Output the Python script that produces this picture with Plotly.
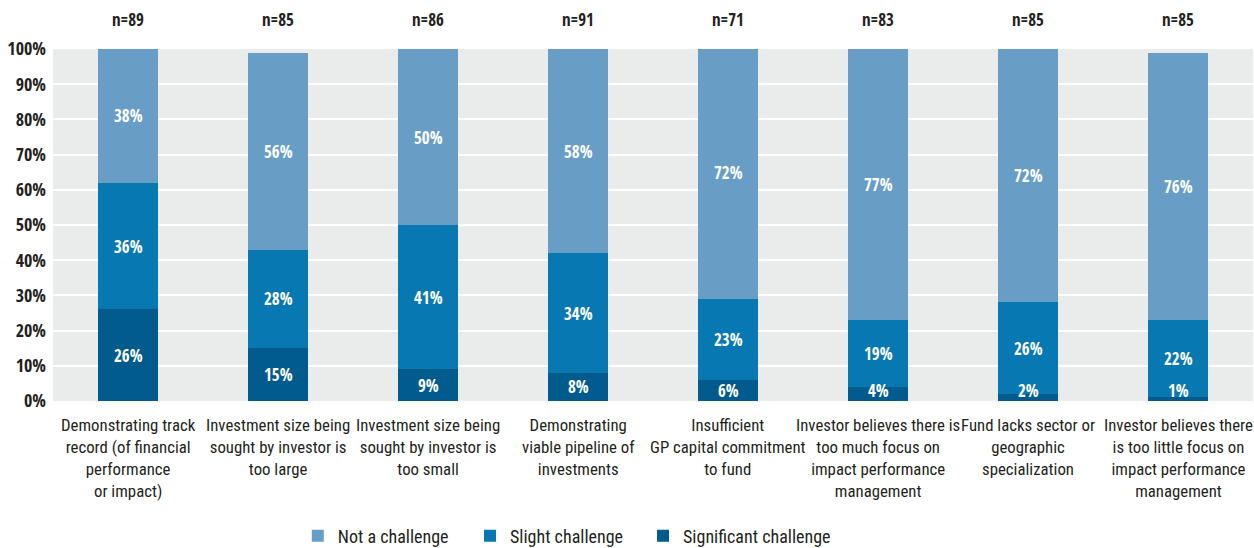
import plotly.graph_objects as go

categories = [
    "Demonstrating track<br>record (of financial<br>performance<br>or impact)",
    "Investment size being<br>sought by investor is<br>too large",
    "Investment size being<br>sought by investor is<br>too small",
    "Demonstrating<br>viable pipeline of<br>investments",
    "Insufficient<br>GP capital commitment<br>to fund",
    "Investor believes there is<br>too much focus on<br>impact performance<br>management",
    "Fund lacks sector or<br>geographic<br>specialization",
    "Investor believes there<br>is too little focus on<br>impact performance<br>management",
]
sample_sizes = [89, 85, 86, 91, 71, 83, 85, 85]
significant = [26, 15, 9, 8, 6, 4, 2, 1]
slight = [36, 28, 41, 34, 23, 19, 26, 22]
not_challenge = [38, 56, 50, 58, 72, 77, 72, 76]

# (name, values, colour, legend id, legend x position)
series = [
    ("Significant challenge", significant, "#015b8c", "legend3", 0.4917),
    ("Slight challenge", slight, "#0778b2", "legend2", 0.3475),
    ("Not a challenge", not_challenge, "#689dc6", "legend", 0.204),
]

BOLD = "Open Sans Condensed, Roboto Condensed, sans-serif"
REG = "Roboto Condensed, sans-serif"
TEXT = "#231f20"

x_idx = list(range(len(categories)))
fig = go.Figure()
for name, vals, color, leg, _ in series:
    fig.add_trace(go.Bar(
        x=x_idx, y=vals, name=name, marker=dict(color=color, line=dict(width=0)),
        hoverinfo="skip", legend=leg,
    ))

annotations = []

# value labels centred on each stacked segment (kept clear of the baseline)
base = [0] * len(categories)
for name, vals, *_ in series:
    for i, v in enumerate(vals):
        yc = max(base[i] + v / 2, 3)
        annotations.append(dict(
            x=i, y=yc, xref="x", yref="y", text=f"{v}%", showarrow=False,
            font=dict(family=BOLD, size=17, color="white"),
        ))
        base[i] += v

# sample sizes above each column
for i, n in enumerate(sample_sizes):
    annotations.append(dict(
        x=i, y=1, xref="x", yref="paper", yanchor="bottom", yshift=16,
        text=f"n={n}", showarrow=False,
        font=dict(family=BOLD, size=17, color=TEXT),
    ))

# category names under each column
for i, c in enumerate(categories):
    annotations.append(dict(
        x=i, y=0, xref="x", yref="paper", yanchor="top", yshift=-12,
        text=c, showarrow=False, align="center",
        font=dict(family=REG, size=16.8, color=TEXT),
    ))

legend_style = dict(
    orientation="h", xref="paper", xanchor="left",
    yref="container", y=0.022, yanchor="middle",
    font=dict(family=REG, size=18, color=TEXT),
    bgcolor="rgba(0,0,0,0)",
)
legends = {leg: dict(legend_style, x=lx) for _, _, _, leg, lx in series}

fig.update_layout(
    width=1254, height=548,
    margin=dict(l=53, r=1, t=49, b=147, autoexpand=False),
    paper_bgcolor="white", plot_bgcolor="#eaeceb",
    barmode="stack", bargap=0.6,
    font=dict(family=REG, color=TEXT),
    annotations=annotations,
    showlegend=True,
    **legends,
    xaxis=dict(
        tickvals=x_idx, showticklabels=False,
        showgrid=False, zeroline=False, showline=False, ticks="",
        range=[-0.5, len(categories) - 0.5], automargin=False,
    ),
    yaxis=dict(
        range=[0, 100], tickvals=list(range(0, 101, 10)),
        ticktext=[f"{t}%" for t in range(0, 101, 10)],
        tickfont=dict(family=BOLD, size=18, color=TEXT),
        showgrid=True, gridcolor="white", gridwidth=2,
        zeroline=False, showline=False, ticks="", ticklabelstandoff=6,
        automargin=False,
    ),
)

fig.write_html("out.html")
